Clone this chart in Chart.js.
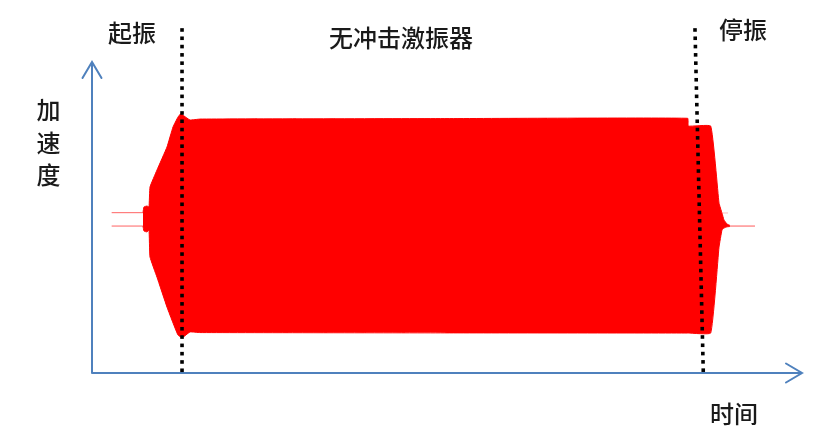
<!DOCTYPE html>
<html>
<head>
<meta charset="utf-8">
<script src="https://cdn.jsdelivr.net/npm/chart.js@4/dist/chart.umd.min.js"></script>
<style>
html,body{margin:0;padding:0;background:#fff;}
#wrap{width:840px;height:440px;position:relative;}
</style>
</head>
<body>
<div id="wrap"><canvas id="c"></canvas></div>
<script>
// ---- data (time units arbitrary, acceleration normalised) ----
const time = [7.18, 7.32, 7.75, 8.03, 8.17, 9.15, 10.56, 11.41, 12.11, 12.54, 12.96, 13.80, 15.21, 50, 83.90, 83.99, 87.14, 88.31, 88.73, 89.01, 89.44, 89.86];
const accUpper = [0.031, 0.068, 0.074, 0.068, 0.196, 0.305, 0.453, 0.582, 0.646, 0.669, 0.653, 0.627, 0.633, 0.636, 0.638, 0.588, 0.588, 0.093, 0.029, -0.016, -0.042, -0.051];
const accLower = [-0.055, -0.087, -0.093, -0.080, -0.254, -0.383, -0.576, -0.678, -0.756, -0.770, -0.765, -0.736, -0.740, -0.742, -0.743, -0.743, -0.743, -0.191, -0.080, -0.068, -0.060, -0.058];
const preTime = [2.77, 7.18];
const preUpper = [0.031, 0.031];
const preLower = [-0.055, -0.055];
const postTime = [89.86, 93.38];
const postLevel = [-0.055, -0.055];
const postFaintTime = [88.73, 89.58];
const postFaintLevel = [0.029, 0.029];
const startLineX = [12.68, 12.68];
const stopLineX = [84.93, 86.10];
const markerLineY = [1.206, -1.0];
const titleText = '无冲击激振器';
const startText = '起振';
const stopText = '停振';
const yAxisText = ['加', '速', '度'];
const xAxisText = '时间';

const pts = (xs, ys) => xs.map((x, i) => ({x: x, y: ys[i]}));

const RED = 'rgb(255,0,0)';
const AXIS = '#4f81bd';
const FONT = '"Noto Sans CJK SC", "Noto Sans", sans-serif';

const decor = {
  id: 'decor',
  beforeDatasetsDraw(chart) {
    const ctx = chart.ctx;
    const xs = chart.scales.x, ys = chart.scales.y;
    const x0 = xs.getPixelForValue(xs.min), x1 = xs.getPixelForValue(xs.max);
    const y0 = ys.getPixelForValue(ys.min), y1 = ys.getPixelForValue(ys.max);
    ctx.save();
    ctx.strokeStyle = AXIS;
    ctx.lineWidth = 2;
    ctx.lineCap = 'round';
    ctx.beginPath();
    ctx.moveTo(x0, y0); ctx.lineTo(x0, y1);
    ctx.moveTo(x0 - 9.5, y1 + 16); ctx.lineTo(x0, y1); ctx.lineTo(x0 + 9.5, y1 + 16);
    ctx.moveTo(x0, y0); ctx.lineTo(x1, y0);
    ctx.moveTo(x1 - 16, y0 - 9.5); ctx.lineTo(x1, y0); ctx.lineTo(x1 - 16, y0 + 9.5);
    ctx.stroke();
    ctx.restore();
  },
  afterDatasetsDraw(chart) {
    // start / stop marker lines: square dots along each line, placed via the scales
    const ctx = chart.ctx;
    const xs = chart.scales.x, ys = chart.scales.y;
    ctx.save();
    ctx.globalCompositeOperation = 'source-over';
    ctx.globalAlpha = 1;
    ctx.fillStyle = '#000';
    [startLineX, stopLineX].forEach(lx => {
      const ax = xs.getPixelForValue(lx[0]), ay = ys.getPixelForValue(markerLineY[0]);
      const bx = xs.getPixelForValue(lx[1]), by = ys.getPixelForValue(markerLineY[1]);
      const len = Math.hypot(bx - ax, by - ay);
      const step = 8.3, size = 3.6;
      for (let d = 0; d <= len; d += step) {
        const t = d / len;
        const px = ax + (bx - ax) * t, py = ay + (by - ay) * t;
        ctx.fillRect(px - size / 2, py - size / 2, size, size);
      }
    });
    ctx.restore();
  },
  afterDraw(chart) {
    const ctx = chart.ctx;
    ctx.save();
    ctx.fillStyle = '#1a1a1a';
    ctx.font = '500 24px ' + FONT;
    ctx.textAlign = 'center';
    ctx.textBaseline = 'middle';
    ctx.fillText(startText, 132, 33);
    ctx.fillText(titleText, 401, 38);
    ctx.fillText(stopText, 743, 30);
    ctx.fillText(xAxisText, 734, 414);
    yAxisText.forEach((t, i) => ctx.fillText(t, 48.5, 110 + i * 32.5));
    ctx.restore();
  }
};

new Chart(document.getElementById('c'), {
  type: 'line',
  data: {
    datasets: [
      {data: pts(preTime, preUpper), borderColor: 'rgba(255,60,60,0.8)', borderWidth: 1, fill: false, pointRadius: 0},
      {data: pts(preTime, preLower), borderColor: 'rgba(255,60,60,0.8)', borderWidth: 1, fill: false, pointRadius: 0},
      {data: pts(postTime, postLevel), borderColor: 'rgba(255,60,60,0.85)', borderWidth: 1, fill: false, pointRadius: 0},
      {data: pts(postFaintTime, postFaintLevel), borderColor: 'rgba(255,120,120,0.5)', borderWidth: 1, fill: false, pointRadius: 0},
      {data: pts(time, accUpper), borderColor: RED, borderWidth: 1, backgroundColor: RED, fill: '+1', pointRadius: 0, tension: 0.1},
      {data: pts(time, accLower), borderColor: RED, borderWidth: 1, backgroundColor: RED, fill: false, pointRadius: 0, tension: 0.1}
    ]
  },
  options: {
    responsive: true,
    maintainAspectRatio: false,
    animation: false,
    layout: {padding: {left: 92, top: 62, right: 38, bottom: 67}},
    scales: {
      x: {type: 'linear', min: 0, max: 100, display: false},
      y: {type: 'linear', min: -1, max: 1, display: false}
    },
    plugins: {legend: {display: false}, tooltip: {enabled: false}}
  },
  plugins: [decor]
});
</script>
</body>
</html>
